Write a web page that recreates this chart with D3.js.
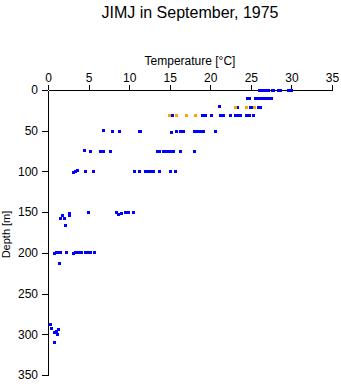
<!DOCTYPE html>
<html>
<head>
<meta charset="utf-8">
<script src="https://cdn.jsdelivr.net/npm/d3@7"></script>
<style>
  html, body { margin: 0; padding: 0; background: #fff; }
  svg { display: block; }
  text { font-family: "Liberation Sans", Arial, Helvetica, sans-serif; fill: #000; }
</style>
</head>
<body>
<svg id="chart" width="341" height="384"></svg>
<script>
// Temperature / depth profile samples, [temperature °C, depth m]
const bluePoints = [
  [26.1,0.5],[26.35,0.5],[26.6,0.5],[26.8,0.5],[27.15,0.5],[27.7,0.5],[27.85,0.5],[28.45,0.5],[28.65,0.5],[29.6,0.5],[30.05,0.5],
  [24.6,10.5],[24.85,10.5],[25.6,10.5],[25.85,10.5],[26.1,10.5],[26.35,10.5],[26.6,10.5],[26.85,10.5],[27.1,10.5],[27.35,10.5],[27.6,10.5],
  [21.1,20],[23.4,21],[24.9,21],[25.2,21],[25.9,21],[26.2,21],
  [15.4,31],[19.1,31],[19.35,31],[20.15,31],[21.25,31],[21.6,31],[22.45,31],[23.1,31],[23.35,31],[23.7,31],[24.45,31],[24.8,31],[25.3,31],
  [6.85,50],[7.95,51],[8.75,51],[11.25,50.5],[11.4,51.5],[15.2,52],[15.85,51],[16.27,51],[16.76,51],[18.05,51],[18.3,51],[18.55,51],[18.8,51],[19.05,51],[19.2,51],[20.7,51],
  [4.55,74.5],[5.25,75],[6.45,75],[6.9,75],[7.65,75],[13.45,75],[13.7,75],[14.2,75],[14.45,75],[14.7,75],[14.95,75],[15.2,75],[15.45,75],[16.3,75],[18.05,75],
  [3.15,101],[3.45,100],[3.6,99],[4.6,100],[5.6,99.5],[10.6,100],[11.25,100],[12.0,100],[12.25,100],[12.5,100],[12.75,100],[13.0,100],[13.7,100],[15.1,100],[15.7,100],
  [1.55,157.5],[1.8,154],[2.0,157.5],[2.13,166],[2.6,151.5],[2.7,154.5],[5.0,150],[8.5,150.5],[8.65,153],[9.0,151.5],[9.6,151],[9.9,150],[10.55,150],
  [0.85,200.5],[1.1,200],[1.4,200],[1.6,200],[2.3,200],[3.2,200.5],[3.45,200],[3.75,200],[4.15,200],[4.6,200],[4.9,200],[5.2,200],[5.7,200],[1.4,213],
  [0.33,287.5],[0.46,292.5],[0.86,298],[1.15,300],[1.27,294],[1.05,297],[0.74,310]
];
const orangePoints = [
  [23.15,21],[24.5,21],[25.5,21],
  [14.95,31],[15.8,31],[17.1,31],[18.15,31]
];
const tempTicks = [0, 5, 10, 15, 20, 25, 30, 35];
const depthTicks = [0, 50, 100, 150, 200, 250, 300, 350];

const titleText = "JIMJ in September, 1975";
const xLabel = "Temperature [\u00B0C]";
const yLabel = "Depth [m]";

const svg = d3.select("#chart");
const plotLeft = 48, plotRight = 332, plotTop = 90, plotBottom = 375;

const x = d3.scaleLinear().domain([0, 35]).range([plotLeft, plotRight]);
const y = d3.scaleLinear().domain([0, 350]).range([plotTop, plotBottom]);

// Axes
const xAxis = svg.append("g")
  .attr("transform", `translate(0,${plotTop})`)
  .call(d3.axisTop(x).tickValues(tempTicks).tickSize(5).tickSizeOuter(0).tickPadding(3));
const yAxis = svg.append("g")
  .attr("transform", `translate(${plotLeft},0)`)
  .call(d3.axisLeft(y).tickValues(depthTicks).tickSize(6).tickSizeOuter(0).tickPadding(4));

[xAxis, yAxis].forEach(g => {
  g.selectAll("path.domain").attr("stroke", "#000").attr("shape-rendering", "crispEdges");
  g.selectAll(".tick line").attr("stroke", "#000").attr("shape-rendering", "crispEdges");
  g.selectAll(".tick text")
    .attr("font-family", "'Liberation Sans', Arial, sans-serif")
    .attr("font-size", 12)
    .attr("fill", "#000");
});

// Markers
function drawPoints(data, color) {
  svg.append("g").selectAll("rect").data(data).join("rect")
    .attr("x", d => Math.round(x(d[0]) - 1.5))
    .attr("y", d => Math.round(y(d[1]) - 1.5))
    .attr("width", 3)
    .attr("height", 3)
    .attr("fill", color)
    .attr("shape-rendering", "crispEdges");
}
drawPoints(bluePoints, "#0000ff");
drawPoints(orangePoints, "#ffa500");

// Titles
svg.append("text")
  .attr("x", (plotLeft + plotRight) / 2).attr("y", 18)
  .attr("text-anchor", "middle")
  .attr("font-size", 16)
  .text(titleText);

svg.append("text")
  .attr("x", (plotLeft + plotRight) / 2).attr("y", 65)
  .attr("text-anchor", "middle")
  .attr("font-size", 12)
  .text(xLabel);

svg.append("text")
  .attr("transform", `translate(10,${(plotTop + plotBottom) / 2 + 2}) rotate(-90)`)
  .attr("text-anchor", "middle")
  .attr("font-size", 11)
  .text(yLabel);
</script>
</body>
</html>
